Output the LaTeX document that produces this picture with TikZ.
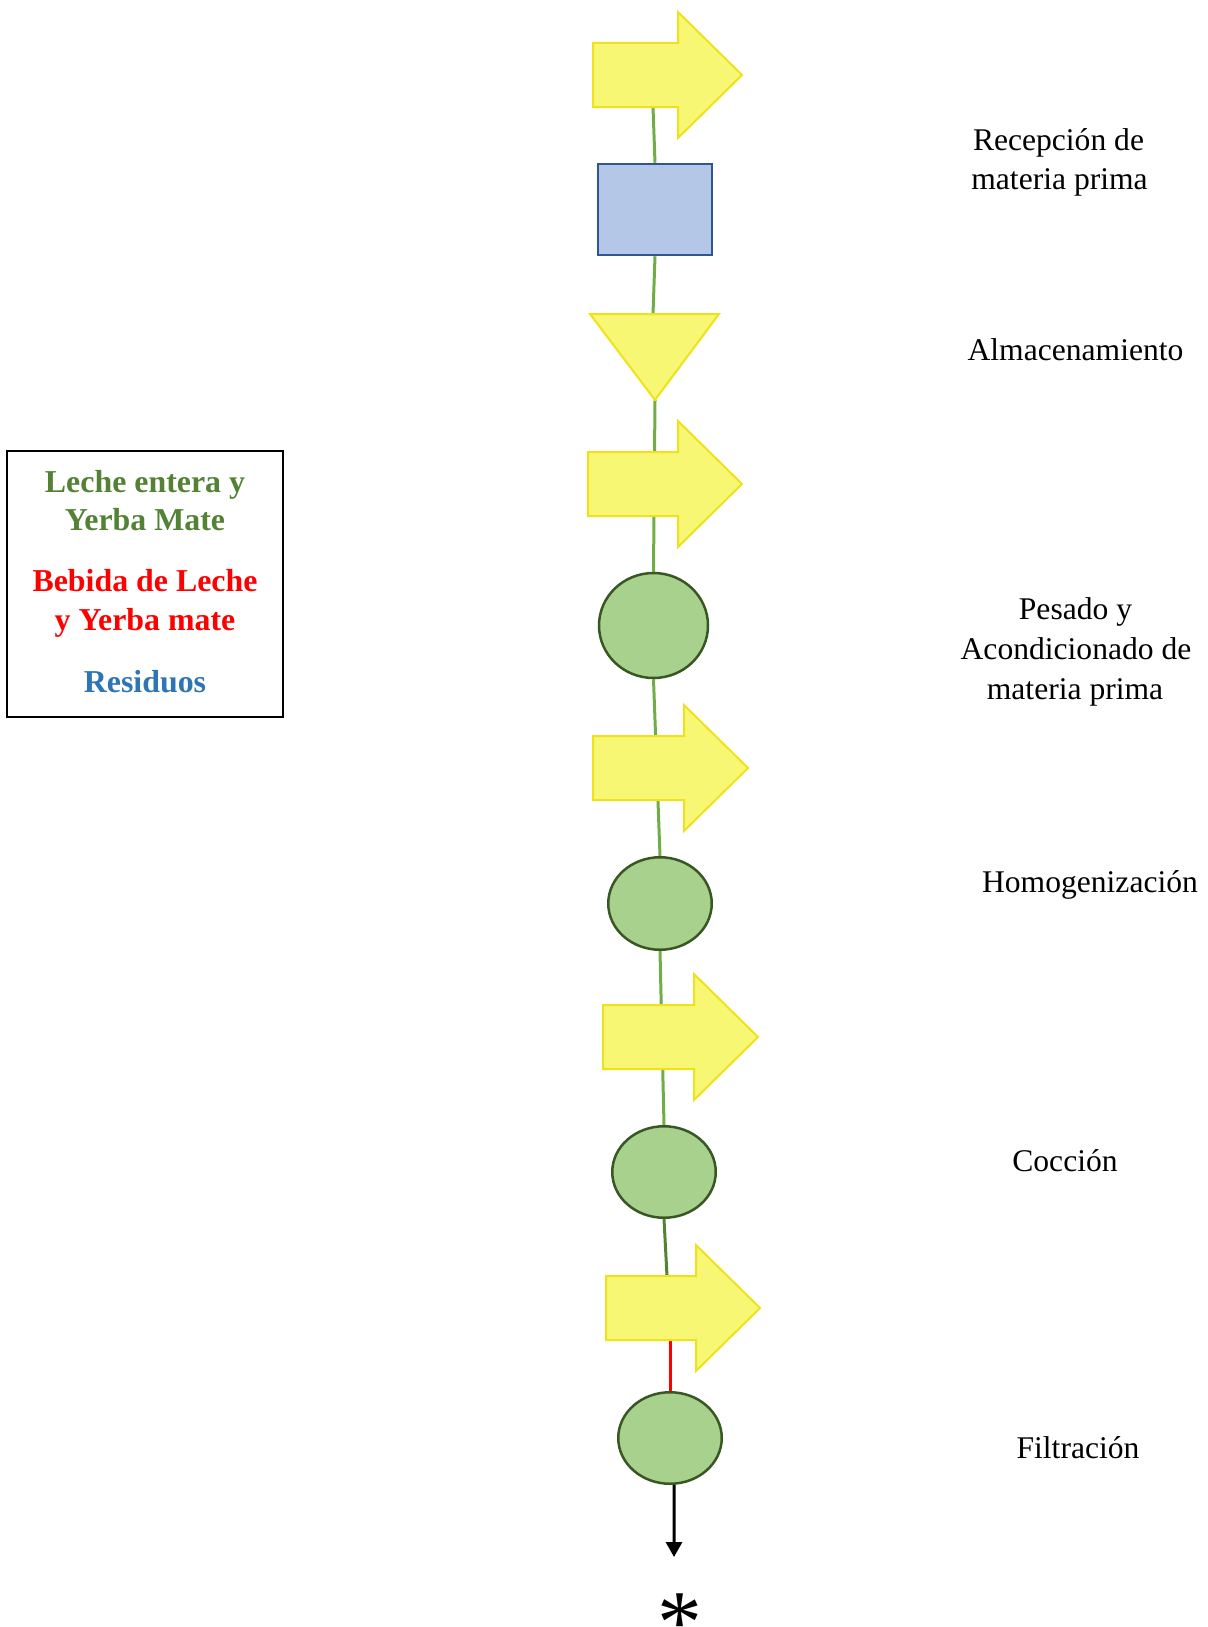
\documentclass[tikz,border=0pt]{standalone}
\usepackage{fontspec}
\setmainfont{Liberation Serif}
\usetikzlibrary{shapes.geometric,arrows.meta}
\definecolor{arrfill}{HTML}{F7F774}
\definecolor{arrdraw}{HTML}{EEE21C}
\definecolor{rectfill}{HTML}{B4C7E7}
\definecolor{rectdraw}{HTML}{2F5597}
\definecolor{circfill}{HTML}{A9D18E}
\definecolor{circdraw}{HTML}{385723}
\definecolor{lgreen}{HTML}{70AD47}
\definecolor{dgreen}{HTML}{548235}
\definecolor{lblue}{HTML}{2E75B6}
\pgfdeclarelayer{bg}
\pgfsetlayers{bg,main}
\newcommand\yarr[3]{% left x, centre y, tip x
  \path[yarrow] (#1,{#2-32}) -- ({#3-64},{#2-32}) -- ({#3-64},{#2-63}) -- (#3,#2)
    -- ({#3-64},{#2+63}) -- ({#3-64},{#2+32}) -- (#1,{#2+32}) -- cycle;}
\begin{document}
\begin{tikzpicture}[x=1bp,y=-1bp,
  yarrow/.style={fill=arrfill,draw=arrdraw,line width=2bp,line join=miter},
  procbox/.style={rectangle,fill=rectfill,draw=rectdraw,line width=2.5bp,inner sep=0pt,
    minimum width=114bp,minimum height=91bp},
  proccirc/.style={ellipse,fill=circfill,draw=circdraw,line width=2.5bp,inner sep=0pt},
  gline/.style={draw=lgreen,line width=3bp},
  dline/.style={draw=dgreen,line width=3bp},
  rline/.style={draw=red,line width=3bp},
  blkarrow/.style={draw=black,line width=3bp,-{Triangle[width=16bp,length=15bp]}},
  lbl/.style={font=\fontsize{31.7}{39.5}\selectfont,inner sep=0pt,anchor=base},
  leg/.style={font=\fontsize{32}{38}\selectfont\bfseries,inner sep=0pt,anchor=base},
]
\useasboundingbox (0,0) rectangle (1207,1627);

% process shapes
\node[procbox] (rect) at (655,209.5) {};
\path[yarrow] (590,314) coordinate (triL) -- (719,314) coordinate (triR) -- (655,400) coordinate (triapex) -- cycle;
\coordinate (tritop) at (653,314);
\node[proccirc,minimum width=109bp,minimum height=105bp] (c1) at (653.5,625.5) {};
\node[proccirc,minimum width=103.5bp,minimum height=92.5bp] (e2) at (660,903.5) {};
\node[proccirc,minimum width=103.5bp,minimum height=91.5bp] (e3) at (664,1172) {};
\node[proccirc,minimum width=103.5bp,minimum height=91.5bp] (e4) at (670,1438) {};

% transport arrows
\yarr{593}{75}{742}
\coordinate (a1b) at (653,107);
\yarr{588}{484}{742}
\yarr{593}{768}{748}
\yarr{603}{1037}{758}
\yarr{606}{1308}{760}
\coordinate (a5t) at (667,1276);
\coordinate (a5b) at (670,1340);

% connectors
\begin{pgfonlayer}{bg}
\draw[gline] (a1b) -- (rect.north);
\draw[gline] (rect.south) -- (tritop);
\draw[gline] (triapex) -- (c1.north);
\draw[gline] (c1.south) -- (e2.north);
\draw[gline] (e2.south) -- (e3.north);
\draw[dline] (e3.south) -- (a5t);
\draw[rline] (a5b) -- (e4.north);
\end{pgfonlayer}
\coordinate (aend) at (674,1557);
\draw[blkarrow] ([xshift=4bp]e4.south) -- (aend);
\node[font=\fontsize{90}{90}\selectfont,inner sep=0pt,anchor=base] (star) at (680,1652) {*};

% step labels
\node[lbl] (t1a) at (1058.5,150) {Recepción de};
\node[lbl] (t1b) at (1059.5,189) {materia prima};
\node[lbl] (t2) at (1075.5,360) {Almacenamiento};
\node[lbl] (t3a) at (1075.5,619) {Pesado y};
\node[lbl] (t3b) at (1076,659) {Acondicionado de};
\node[lbl] (t3c) at (1075,699) {materia prima};
\node[lbl] (t4) at (1090,892) {Homogenización};
\node[lbl] (t5) at (1065,1171) {Cocción};
\node[lbl] (t6) at (1078,1458) {Filtración};

% legend
\node[draw=black,line width=1.3bp,minimum width=276bp,minimum height=266bp,inner sep=0pt] (legend) at (145,584) {};
\node[leg,text=dgreen] (lg1a) at (145,492) {Leche entera y};
\node[leg,text=dgreen] (lg1b) at (145,530.5) {Yerba Mate};
\node[leg,text=red] (lg2a) at (145,591.5) {Bebida de Leche};
\node[leg,text=red] (lg2b) at (145,630) {y Yerba mate};
\node[leg,text=lblue] (lg3) at (145,692) {Residuos};
\end{tikzpicture}
\end{document}
